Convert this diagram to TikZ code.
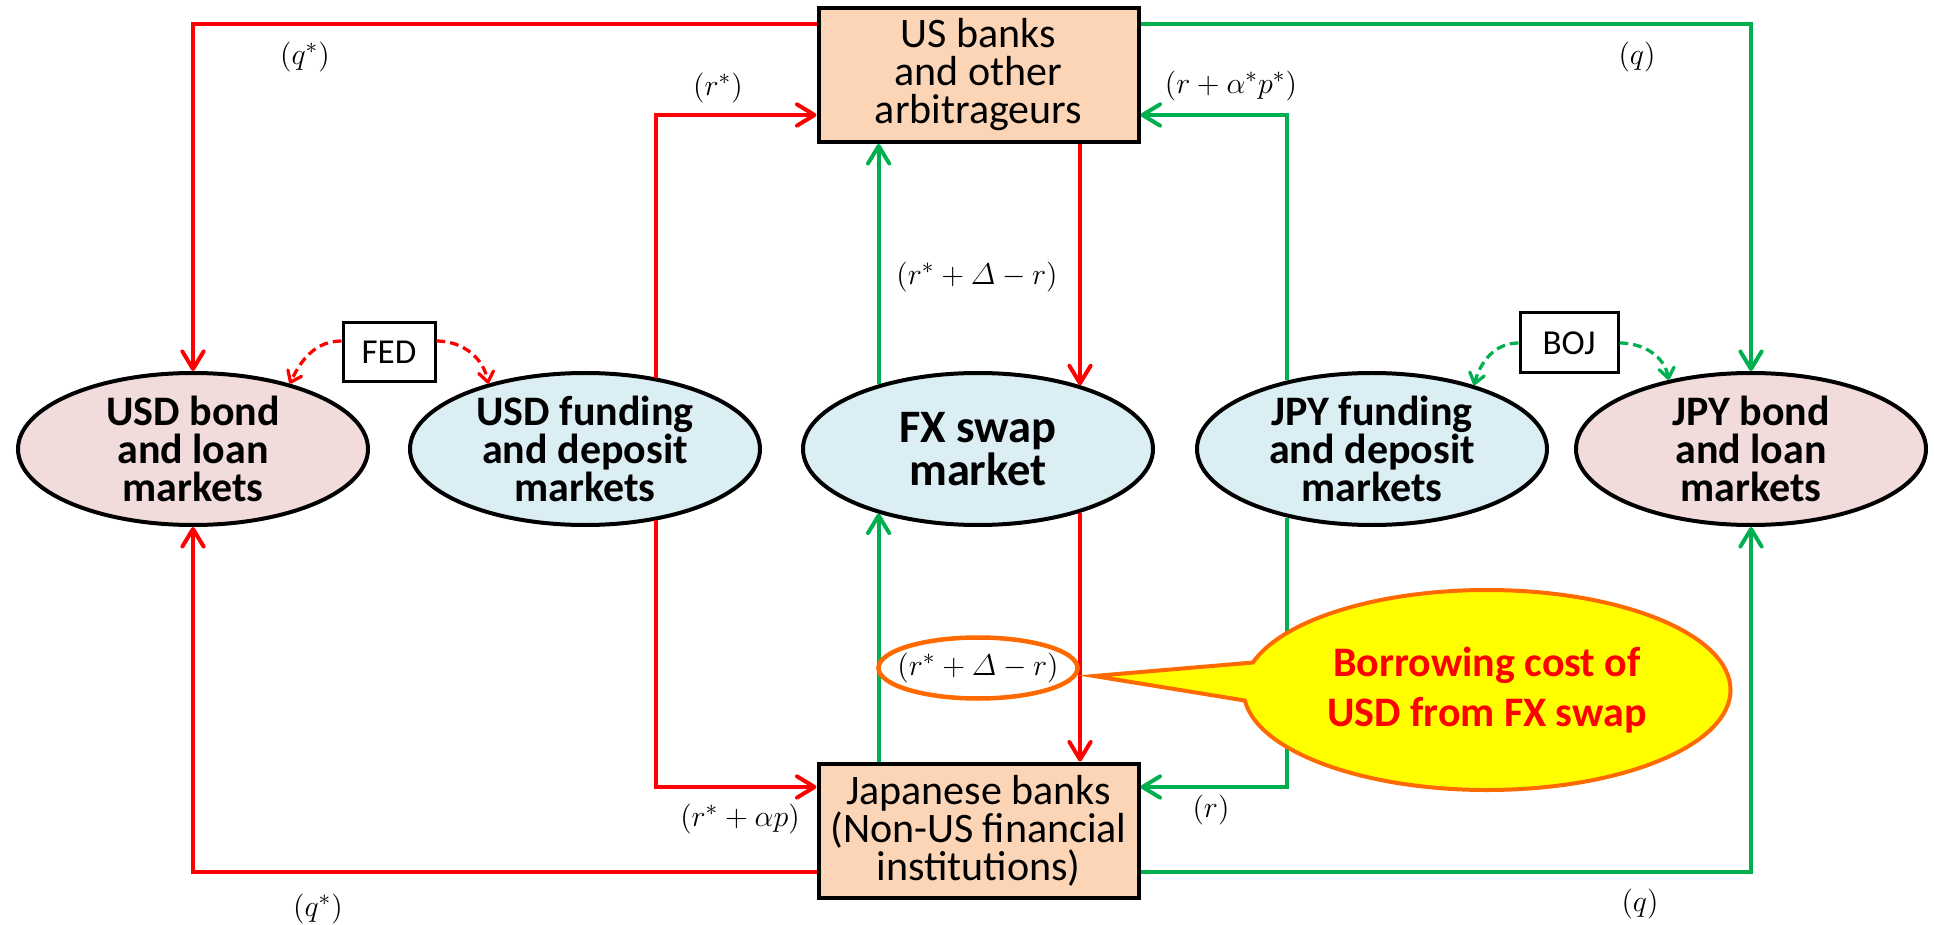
\documentclass[tikz,border=0pt]{standalone}
\usepackage{amsmath}
\usepackage[no-math]{fontspec}
\setmainfont{Carlito}
\usetikzlibrary{arrows.meta,shapes.geometric,shapes.callouts}
\definecolor{peach}{HTML}{FBD5B5}
\definecolor{lblue}{HTML}{DBEEF4}
\definecolor{lpink}{HTML}{F2DCDB}
\definecolor{cred}{HTML}{FF0000}
\definecolor{cgreen}{HTML}{00B050}
\definecolor{corange}{HTML}{FF6A00}
\definecolor{cyellow}{HTML}{FFFF00}
\begin{document}
\begin{tikzpicture}[x=0.4pt,y=-0.4pt,
  bankbox/.style={draw, line width=1.6pt, fill=peach, minimum width=128pt, minimum height=53.6pt, inner sep=0pt, align=center, font=\fontsize{16.8}{15.2}\selectfont},
  mkt/.style={ellipse, draw, line width=1.6pt, minimum width=140pt, minimum height=60.8pt, inner sep=0pt, align=center, font=\bfseries\fontsize{16.8}{15.2}\selectfont},
  cbank/.style={draw, line width=1.2pt, fill=white, inner sep=0pt, font=\fontsize{14}{16}\selectfont},
  lbl/.style={inner sep=1pt, font=\fontsize{13}{15}\selectfont},
  rl/.style={draw=cred, line width=1.6pt},
  gl/.style={draw=cgreen, line width=1.6pt},
  arr/.style={-{Straight Barb[round,length=7pt,width=8.5pt]}},
  darr/.style={-{Straight Barb[round,length=4pt,width=6pt]}, line width=1.3pt, dash pattern=on 3.5pt off 2pt},
]
\useasboundingbox (0,0) rectangle (1934,925);

% main boxes
\node[bankbox] (us) at (978.5,75) {US banks\\and other\\arbitrageurs};
\node[bankbox] (jp) at (978.5,830.5) {Japanese banks\\(Non-US financial\\institutions)};

% market ellipses
\node[mkt, fill=lpink] (usdb) at (193,449) {USD bond\\and loan\\markets};
\node[mkt, fill=lblue] (usdf) at (585,449) {USD funding\\and deposit\\markets};
\node[mkt, fill=lblue, font=\bfseries\fontsize{18.6}{15.5}\selectfont] (fx) at (978,449) {FX swap\\market};
\node[mkt, fill=lblue] (jpyf) at (1372,449) {JPY funding\\and deposit\\markets};
\node[mkt, fill=lpink] (jpyb) at (1751,449) {JPY bond\\and loan\\markets};

% central banks
\node[cbank, minimum width=36.8pt, minimum height=23.6pt] (fed) at (389,352) {FED};
\node[cbank, minimum width=39.2pt, minimum height=24pt] (boj) at (1569,343) {BOJ};

% top connectors
\draw[rl,arr] ([yshift=20.4pt]us.west) -| (usdb.north);
\draw[rl,arr] (usdf.45.8) |- ([yshift=-16pt]us.west);
\draw[rl,arr] (us.south -| fx.32.3) -- (fx.32.3);
\draw[gl,arr] (fx.147.3) -- (fx.147.3 |- us.south);
\draw[gl,arr] ([yshift=20.4pt]us.east) -| (jpyb.north);
\draw[gl,arr] (jpyf.141.5) |- ([yshift=-16pt]us.east);

% bottom connectors
\draw[rl,arr] (usdf.-45.8) |- ([yshift=17.4pt]jp.west);
\draw[rl,arr] ([yshift=-16.6pt]jp.west) -| (usdb.south);
\draw[gl,arr] ([yshift=-16.6pt]jp.east) -| (jpyb.south);
\draw[gl,arr] (jpyf.-141.5) |- ([yshift=17.4pt]jp.east);
\draw[gl,arr] (jp.north -| fx.-147.3) -- (fx.-147.3);
\draw[rl,arr] (fx.-32.3) -- (fx.-32.3 |- jp.north);

% central bank dashed arrows
\draw[darr, draw=cred] ([yshift=4.4pt]fed.west) to[out=180, in=65] (usdb.34);
\draw[darr, draw=cred] ([yshift=4.4pt]fed.east) to[out=0, in=100] (usdf.146.4);
\draw[darr, draw=cgreen] (boj.west) to[out=180, in=75] (jpyf.32.4);
\draw[darr, draw=cgreen] (boj.east) to[out=0, in=100] (jpyb.140.7);

% labels
\node[lbl] (lq1) at (305,57) {$(q^*)$};
\node[lbl] (lr1) at (718,88) {$(r^*)$};
\node[lbl] (lra) at (1231,86) {$(r+\alpha^*p^*)$};
\node[lbl] (lq2) at (1637,57) {$(q)$};
\node[lbl] (ld1) at (977,277) {$(r^*+\varDelta-r)$};
\node[lbl] (lrap) at (740,819) {$(r^*+\alpha p)$};
\node[lbl] (lr2) at (1211,810) {$(r)$};
\node[lbl] (lq3) at (318,909) {$(q^*)$};
\node[lbl] (lq4) at (1640,904) {$(q)$};
\node[lbl] (ld2) at (978,668) {$(r^*+\varDelta-r)$};
\node[ellipse, draw=corange, line width=1.8pt, minimum width=79.6pt, minimum height=24.4pt, inner sep=0pt] (ring) at (ld2) {};

% callout
\coordinate (tip) at (1094,676);
\node[ellipse callout, draw=corange, line width=1.6pt, fill=cyellow, minimum width=194.8pt, minimum height=80pt, inner sep=0pt,
      callout absolute pointer={(tip)}, callout pointer arc=22, align=center, text=cred,
      font=\bfseries\fontsize{16.8}{20}\selectfont] (callout) at (1487,690) {Borrowing cost of\\USD from FX swap};
\end{tikzpicture}
\end{document}
